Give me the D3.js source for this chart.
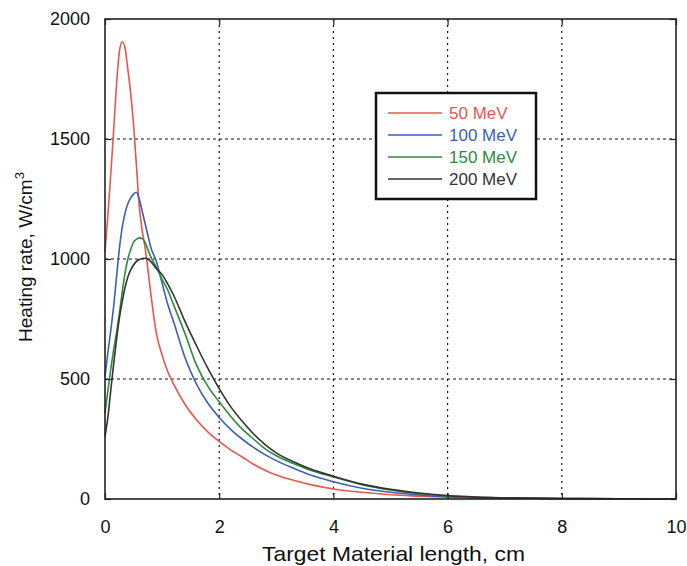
<!doctype html>
<html>
<head>
<meta charset="utf-8"/>
<title>Heating rate vs target length</title>
<script src="https://d3js.org/d3.v7.min.js"></script>
<style>
body { margin:0; background:#fff; }
text { font-family: "Liberation Sans", Arial, sans-serif; }
</style>
</head>
<body>
<script type="text/javascript">
// data
var xs = [0,0.05,0.1,0.15,0.2,0.25,0.3,0.35,0.4,0.45,0.5,0.55,0.6,0.65,0.7,0.75,0.8,0.9,1.0,1.1,1.2,1.4,1.6,1.8,2.0,2.2,2.4,2.6,2.8,3.0,3.3,3.6,4.0,4.5,5.0,5.5,6.0,6.5,7,8,9,10];
var mev50  = [1030,1180,1350,1530,1720,1860,1905,1880,1790,1690,1560,1390,1220,1120,1050,960,860,690,600,530,480,395,330,280,240,205,175,145,120,100,78,60,42,28,18,12,7,4,3,1,0,0];
var mev100 = [510,610,700,800,920,1040,1130,1190,1230,1255,1270,1278,1250,1200,1150,1100,1050,990,900,810,740,590,480,400,340,290,250,215,185,160,128,100,72,45,28,17,10,6,4,2,1,0];
var mev150 = [358,450,540,620,690,770,860,940,1000,1040,1070,1082,1088,1085,1070,1040,1010,965,915,870,810,690,560,470,405,345,292,250,210,180,148,120,92,60,38,22,12,7,4,2,1,0];
var mev200 = [260,340,450,560,660,750,820,880,925,955,975,990,998,1002,1003,1000,990,960,935,895,850,740,640,545,460,385,325,272,228,192,155,125,95,62,40,25,14,8,5,2,1,0];
var seriesNames = ["50 MeV","100 MeV","150 MeV","200 MeV"];
var seriesColors = ["#e8574b","#3b5fb3","#2f8a3c","#333333"];
var xTicks = [0,2,4,6,8,10];
var yTicks = [0,500,1000,1500,2000];

var W = 687, H = 566;
var m = {left:105, top:19, right:11, bottom:67};
var w = W - m.left - m.right, h = H - m.top - m.bottom;

var svg = d3.select("body").append("svg").attr("width", W).attr("height", H);
var g = svg.append("g").attr("transform", "translate(" + m.left + "," + m.top + ")");

var x = d3.scaleLinear().domain([0,10]).range([0,w]);
var y = d3.scaleLinear().domain([0,2000]).range([h,0]);

// dotted grid
g.selectAll(".vgrid").data(xTicks.slice(1,-1)).enter().append("line")
  .attr("x1", d => x(d)).attr("x2", d => x(d)).attr("y1", 0).attr("y2", h)
  .attr("stroke", "#111").attr("stroke-width", 1.2).attr("stroke-dasharray", "2,4");
g.selectAll(".hgrid").data(yTicks.slice(1,-1)).enter().append("line")
  .attr("x1", 0).attr("x2", w).attr("y1", d => y(d)).attr("y2", d => y(d))
  .attr("stroke", "#111").attr("stroke-width", 1.2).attr("stroke-dasharray", "3,3");

// curves
var all = [mev50, mev100, mev150, mev200];
var line = d3.line().x((d,i) => x(xs[i])).y(d => y(d)).curve(d3.curveMonotoneX);
all.forEach(function(s, k){
  g.append("path").datum(s).attr("d", line)
    .attr("fill", "none").attr("stroke", seriesColors[k]).attr("stroke-width", 1.6);
});

// axes with inward ticks, labels outside
var xa = g.append("g").attr("transform", "translate(0," + h + ")")
  .call(d3.axisBottom(x).tickValues(xTicks).tickSize(-6).tickPadding(21).tickFormat(d3.format("d")));
var ya = g.append("g")
  .call(d3.axisLeft(y).tickValues(yTicks).tickSize(-6).tickPadding(15).tickFormat(d3.format("d")));
g.append("g").call(d3.axisTop(x).tickValues(xTicks).tickSize(-6).tickFormat(""));
g.append("g").attr("transform", "translate(" + w + ",0)")
  .call(d3.axisRight(y).tickValues(yTicks).tickSize(-6).tickFormat(""));
g.selectAll(".domain").remove();
g.selectAll(".tick line").attr("stroke", "#222").attr("stroke-width", 1.2);
xa.selectAll("text").attr("font-size", 18).attr("fill", "#111");
ya.selectAll("text").attr("font-size", 18).attr("fill", "#111");

// frame
g.append("rect").attr("width", w).attr("height", h)
  .attr("fill", "none").attr("stroke", "#222").attr("stroke-width", 1.6);

// axis titles
svg.append("text").attr("x", 262).attr("y", 561)
  .attr("font-size", 21).attr("fill", "#111")
  .attr("textLength", 263).attr("lengthAdjust", "spacingAndGlyphs")
  .text("Target Material length, cm");
var yt = svg.append("text").attr("transform", "translate(32," + (m.top + h/2 - 2) + ") rotate(-90)")
  .attr("text-anchor", "middle").attr("font-size", 19).attr("fill", "#111");
yt.append("tspan").text("Heating rate, W/cm");
yt.append("tspan").attr("dy", -8).attr("font-size", 13).text("3");

// legend
var lg = svg.append("g").attr("transform", "translate(376,93)");
lg.append("rect").attr("width", 160).attr("height", 106)
  .attr("fill", "#fff").attr("stroke", "#111").attr("stroke-width", 2.5);
seriesNames.forEach(function(n, k){
  var yy = 20 + k * 22;
  lg.append("line").attr("x1", 12).attr("x2", 66).attr("y1", yy).attr("y2", yy)
    .attr("stroke", seriesColors[k]).attr("stroke-width", 1.6);
  lg.append("text").attr("x", 73).attr("y", yy + 6).attr("font-size", 17)
    .attr("fill", seriesColors[k]).text(n);
});
</script>
</body>
</html>
